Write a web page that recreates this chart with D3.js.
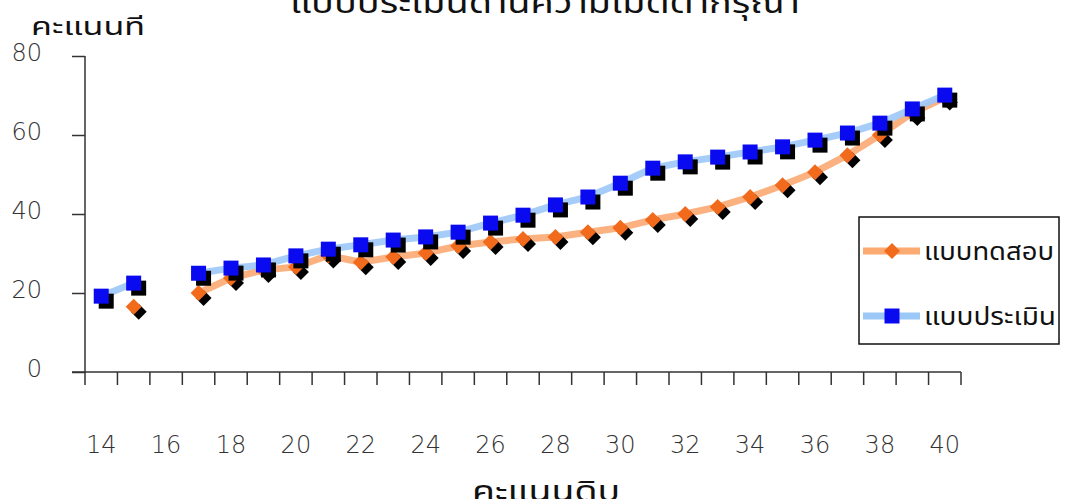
<!DOCTYPE html>
<html>
<head>
<meta charset="utf-8">
<script src="https://cdn.jsdelivr.net/npm/d3@7"></script>
<style>
  html, body { margin: 0; padding: 0; background: #fff; }
  svg { display: block; }
</style>
</head>
<body>
<svg id="chart" width="1065" height="499"></svg>
<script>
const categories = [14,15,16,17,18,19,20,21,22,23,24,25,26,27,28,29,30,31,32,33,34,35,36,37,38,39,40];
const testScores = [null,16.5,null,20.0,23.8,25.8,26.6,29.5,27.8,29.1,30.1,31.9,32.9,33.7,34.2,35.4,36.5,38.5,40.0,41.8,44.3,47.3,50.6,54.9,60.0,65.6,69.5];
const evalScores = [19.2,22.5,null,25.0,26.3,27.1,29.4,31.1,32.2,33.4,34.2,35.4,37.7,39.7,42.3,44.3,47.8,51.6,53.2,54.4,55.7,57.0,58.7,60.5,63.0,66.6,70.1];
const yTicks = [0,20,40,60,80];
const xTickLabels = [14,16,18,20,22,24,26,28,30,32,34,36,38,40];
const seriesNames = ["แบบทดสอบ","แบบประเมิน"];
const titleText = "แบบประเมินด้านความเมตตากรุณา";
const xTitle = "คะแนนดิบ";
const yTitle = "คะแนนที";

const svg = d3.select("#chart");
const numFont = "'DejaVu Sans', sans-serif";
const thaiFont = "'Noto Sans Thai', 'Noto Sans', 'DejaVu Sans', sans-serif";

const x = d3.scaleBand().domain(categories).range([85, 961]).padding(0);
const y = d3.scaleLinear().domain([0, 80]).range([372, 56]);
const cx = c => x(c) + x.bandwidth() / 2;

// Titles (cut at edges like the reference)
svg.append("text").attr("x", 545).attr("y", 13).attr("text-anchor", "middle")
  .attr("font-family", thaiFont).attr("font-size", 30).attr("fill", "#111")
  .attr("textLength", 510).attr("lengthAdjust", "spacingAndGlyphs").text(titleText);
svg.append("text").attr("x", 31).attr("y", 35).attr("text-anchor", "start")
  .attr("font-family", thaiFont).attr("font-size", 24).attr("fill", "#111")
  .attr("textLength", 114).attr("lengthAdjust", "spacingAndGlyphs").text(yTitle);
svg.append("text").attr("x", 546).attr("y", 501).attr("text-anchor", "middle")
  .attr("font-family", thaiFont).attr("font-size", 29).attr("fill", "#111")
  .attr("textLength", 148).attr("lengthAdjust", "spacingAndGlyphs").text(xTitle);

// Y axis
const yAxis = d3.axisLeft(y).tickValues(yTicks).tickSize(13).tickPadding(30).tickFormat(d3.format("d"));
const gy = svg.append("g").attr("transform", "translate(85,0)").call(yAxis);
gy.select(".domain").attr("stroke", "#333").attr("stroke-width", 1.5).attr("d", "M0,56V372");
gy.selectAll(".tick line").attr("stroke", "#333").attr("stroke-width", 1.5);
gy.selectAll(".tick text").attr("font-family", numFont).attr("font-size", 24)
  .attr("font-weight", 300).attr("fill", "#333").attr("dy", "0.2em");

// X axis: ticks at category boundaries
const boundaries = categories.map(c => x(c)).concat([x(categories[categories.length-1]) + x.bandwidth()]);
const gx = svg.append("g");
gx.append("line").attr("x1", 72).attr("x2", 961).attr("y1", 372).attr("y2", 372)
  .attr("stroke", "#333").attr("stroke-width", 1.5);
gx.selectAll("line.tk").data(boundaries).join("line").attr("class", "tk")
  .attr("x1", d => d).attr("x2", d => d).attr("y1", 372).attr("y2", 385)
  .attr("stroke", "#333").attr("stroke-width", 1.5);
gx.selectAll("text").data(xTickLabels).join("text")
  .attr("x", d => cx(d)).attr("y", 453).attr("text-anchor", "middle")
  .attr("font-family", numFont).attr("font-size", 24).attr("font-weight", 300)
  .attr("fill", "#333").text(d => d);

const series = [
  { name: seriesNames[0], values: testScores, line: "#fbaa72", mark: "#f26b1d", shape: "diamond" },
  { name: seriesNames[1], values: evalScores, line: "#9cc8f8", mark: "#0a0af0", shape: "square" }
];

function markerPath(shape) {
  if (shape === "square") return "M-7.5,-7.5H7.5V7.5H-7.5Z";
  return "M0,-8L8,0L0,8L-8,0Z";
}

series.forEach(s => {
  const pts = categories.map((c, i) => ({ c, v: s.values[i] }));
  const line = d3.line().defined(d => d.v != null).x(d => cx(d.c)).y(d => y(d.v));
  const g = svg.append("g");
  g.append("path").attr("d", line(pts)).attr("fill", "none")
    .attr("stroke", s.line).attr("stroke-width", 7).attr("stroke-opacity", 0.9);
  const valid = pts.filter(d => d.v != null);
  g.selectAll("path.sh").data(valid).join("path").attr("class", "sh")
    .attr("d", markerPath(s.shape))
    .attr("transform", d => `translate(${cx(d.c) + 5},${y(d.v) + 5})`)
    .attr("fill", "#000");
  g.selectAll("path.mk").data(valid).join("path").attr("class", "mk")
    .attr("d", markerPath(s.shape))
    .attr("transform", d => `translate(${cx(d.c)},${y(d.v)})`)
    .attr("fill", s.mark);
});

// Legend
const lg = svg.append("g");
lg.append("rect").attr("x", 859).attr("y", 217).attr("width", 200).attr("height", 127)
  .attr("fill", "#fff").attr("stroke", "#111").attr("stroke-width", 1.5);
series.forEach((s, i) => {
  const ly = [251, 316][i];
  lg.append("line").attr("x1", 863).attr("x2", 920).attr("y1", ly).attr("y2", ly)
    .attr("stroke", s.line).attr("stroke-width", 7);
  lg.append("path").attr("d", markerPath(s.shape)).attr("transform", `translate(892,${ly})`)
    .attr("fill", s.mark);
  lg.append("text").attr("x", 924).attr("y", ly + 9).attr("font-family", thaiFont)
    .attr("font-size", 25).attr("fill", "#111")
    .attr("textLength", i === 0 ? 130 : 132).attr("lengthAdjust", "spacingAndGlyphs").text(s.name);
});
</script>
</body>
</html>
